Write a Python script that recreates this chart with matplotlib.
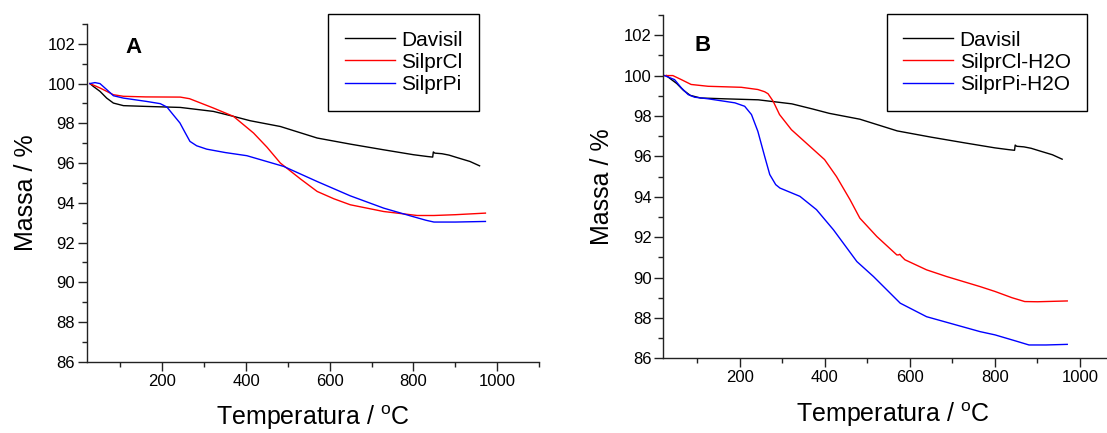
import matplotlib
matplotlib.use("Agg")
import matplotlib.pyplot as plt
from matplotlib.ticker import MultipleLocator

plt.rcParams['font.family'] = ['Liberation Sans', 'DejaVu Sans']
plt.rcParams['mathtext.fontset'] = 'custom'
plt.rcParams['mathtext.rm'] = 'Liberation Sans'

# Davisil (mesma curva nos dois paineis)
temp_davisil = [27, 35, 51, 67, 83, 107, 163, 243, 322, 370, 410, 482, 570, 650, 728,
                800, 833, 846, 847.5, 851, 868, 885, 905, 935, 958]
massa_davisil = [100.0, 99.86, 99.61, 99.27, 99.02, 98.89, 98.85, 98.8, 98.6, 98.35, 98.13,
                 97.84, 97.26, 96.95, 96.67, 96.42, 96.33, 96.30, 96.56, 96.5, 96.47, 96.4,
                 96.27, 96.08, 95.86]

# painel A
temp_cl = [27, 51, 83, 107, 160, 243, 265, 282, 322, 370, 418, 450, 482, 530, 570, 610,
           649, 729, 809, 849, 900, 972]
massa_cl = [100.0, 99.78, 99.44, 99.36, 99.33, 99.32, 99.24, 99.1, 98.77, 98.35, 97.51,
            96.8, 96.0, 95.2, 94.57, 94.2, 93.9, 93.56, 93.36, 93.36, 93.4, 93.48]

temp_pi = [27, 39, 51, 67, 83, 107, 163, 195, 211, 226, 242, 254, 266, 282, 306, 350, 402,
           490, 570, 649, 729, 793, 830, 849, 900, 972]
massa_pi = [100.0, 100.05, 100.0, 99.7, 99.39, 99.27, 99.1, 98.99, 98.82, 98.43, 98.02,
            97.55, 97.09, 96.87, 96.7, 96.53, 96.37, 95.83, 95.07, 94.35, 93.73, 93.34,
            93.12, 93.03, 93.03, 93.06]

# painel B
temp_cl_h2o = [22, 42, 62, 85, 125, 203, 242, 258, 266, 278, 293, 321, 360, 399, 427, 459,
               482, 522, 569, 573, 576, 580, 588, 639, 686, 765, 800, 840, 870, 900, 970]
massa_cl_h2o = [100.0, 100.0, 99.8, 99.56, 99.47, 99.42, 99.31, 99.2, 99.1, 98.73, 98.07,
                97.32, 96.58, 95.84, 95.0, 93.85, 92.94, 92.03, 91.12, 91.12, 91.15, 91.05,
                90.88, 90.38, 90.05, 89.55, 89.31, 89.0, 88.81, 88.8, 88.84]

temp_pi_h2o = [22, 46, 62, 78, 93, 125, 188, 211, 227, 242, 258, 270, 284, 294, 341, 380,
               420, 475, 514, 577, 639, 765, 800, 850, 880, 920, 970]
massa_pi_h2o = [100.0, 99.8, 99.39, 99.06, 98.93, 98.85, 98.65, 98.48, 98.07, 97.24, 96.0,
                95.1, 94.6, 94.43, 94.02, 93.36, 92.36, 90.79, 90.05, 88.73, 88.06, 87.32,
                87.16, 86.85, 86.66, 86.66, 86.69]

W, H = 1107, 433


def eixos(ax):
    # so eixo esquerdo e de baixo, ticks para fora
    ax.spines['top'].set_visible(False)
    ax.spines['right'].set_visible(False)
    for s in ['left', 'bottom']:
        ax.spines[s].set_linewidth(1.0)
        ax.spines[s].set_color('#222222')
    ax.set_xlim(20, 1100)
    ax.set_ylim(86, 103)
    ax.xaxis.set_major_locator(MultipleLocator(200))
    ax.xaxis.set_minor_locator(MultipleLocator(100))
    ax.yaxis.set_major_locator(MultipleLocator(2))
    ax.yaxis.set_minor_locator(MultipleLocator(1))
    ax.tick_params(which='major', direction='out', length=6.5, width=1, labelsize=12, pad=2,
                   color='#222222')
    ax.tick_params(which='minor', direction='out', length=3.5, width=1, color='#222222')
    ax.set_xlabel('Temperatura / $^{\\mathrm{o}}$C', fontsize=18, labelpad=11)
    ax.set_ylabel('Massa / %', fontsize=18, labelpad=7)


def legenda(ax, x0, y0):
    ax.legend(loc='upper left', bbox_to_anchor=(x0 / W, 1 - y0 / H),
              bbox_transform=ax.figure.transFigure, borderaxespad=0, fontsize=15,
              frameon=True, fancybox=False, edgecolor='black', framealpha=1,
              handlelength=2.4, handletextpad=0.3, labelspacing=0.15, borderpad=0.8)
    ax.get_legend().get_frame().set_linewidth(1.0)


fig = plt.figure(figsize=(W / 100, H / 100), dpi=100)

axA = fig.add_axes([87 / W, 1 - 361.7 / H, (539 - 87) / W, (361.7 - 24) / H])
axA.plot(temp_davisil, massa_davisil, color='black', lw=1.0, label='Davisil')
axA.plot(temp_cl, massa_cl, color='red', lw=1.0, label='SilprCl')
axA.plot(temp_pi, massa_pi, color='blue', lw=1.0, label='SilprPi')
eixos(axA)
legenda(axA, 328, 14)
fig.text(125.7 / W, 1 - 52.7 / H, 'A', fontsize=16, fontweight='bold', va='baseline')

axB = fig.add_axes([663.5 / W, 1 - 358.3 / H, (1122.5 - 663.5) / W, (358.3 - 15) / H])
axB.plot(temp_davisil, massa_davisil, color='black', lw=1.0, label='Davisil')
axB.plot(temp_cl_h2o, massa_cl_h2o, color='red', lw=1.0, label='SilprCl-H2O')
axB.plot(temp_pi_h2o, massa_pi_h2o, color='blue', lw=1.0, label='SilprPi-H2O')
eixos(axB)
legenda(axB, 886.7, 14)
fig.text(695 / W, 1 - 50.7 / H, 'B', fontsize=16, fontweight='bold', va='baseline')

fig.savefig('out.png', dpi=100)
